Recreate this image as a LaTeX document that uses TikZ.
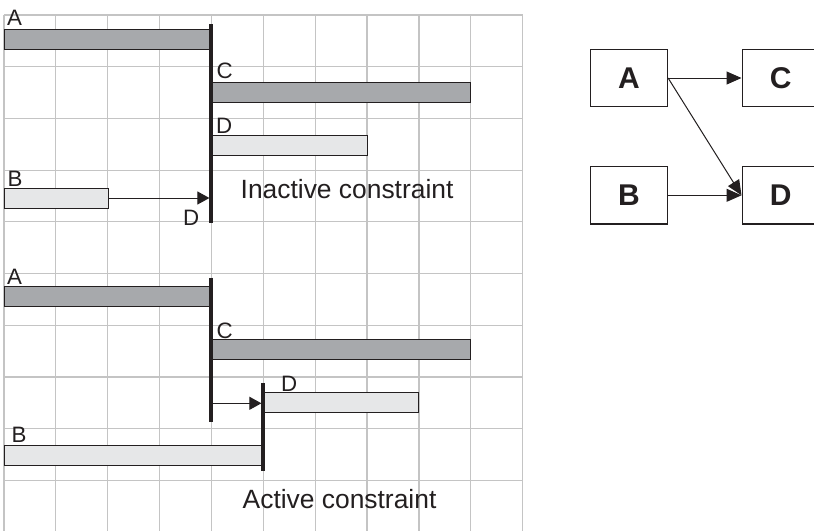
\documentclass[tikz,border=0pt]{standalone}
\usepackage{fontspec}
\setmainfont{Liberation Sans}
\usetikzlibrary{arrows.meta}
\definecolor{gridc}{HTML}{C4C4C4}
\definecolor{darkfill}{HTML}{A7A9AC}
\definecolor{lightfill}{HTML}{E6E7E8}
\definecolor{ink}{HTML}{231F20}
\begin{document}
\begin{tikzpicture}[x=1pt,y=-1pt,
 bar/.style={draw=ink, line width=0.9pt, inner sep=0pt, outer sep=0pt, minimum height=20pt, anchor=north west},
 darkbar/.style={bar, fill=darkfill},
 lightbar/.style={bar, fill=lightfill},
 lbl/.style={font=\fontsize{22.3}{24}\selectfont, text=ink, inner sep=0pt, anchor=base west},
 caption/.style={font=\fontsize{26.4}{28}\selectfont, text=ink, inner sep=0pt, anchor=base west},
 constr/.style={line width=3.3pt, draw=ink},
 arr/.style={draw=ink, line width=1pt, -{Triangle[length=12pt,width=13pt]}},
 netarr/.style={draw=ink, line width=1pt, -{Triangle[length=15pt,width=13pt]}},
 box/.style={draw=ink, line width=1.5pt, minimum width=76.7pt, minimum height=57.3pt, inner sep=0pt, font=\bfseries\fontsize{30}{32}\selectfont, text=ink}]
\fill[white] (0,0) rectangle (814,531);
\useasboundingbox (0,0) rectangle (814,531);
\clip (0,0) rectangle (814,531);
% grid
\foreach \k in {0,...,10} \draw[gridc, line width=1.2pt] ({4+51.87*\k},15) -- ({4+51.87*\k},531);
\foreach \j in {0,...,9} \draw[gridc, line width=1.2pt] (4,{15+51.7*\j}) -- (522.7,{15+51.7*\j});
% top gantt
\node[darkbar, minimum width=207pt] (A1) at (4,29.3) {};
\node[darkbar, minimum width=259.7pt] (C1) at (211,82.7) {};
\node[lightbar, minimum width=156pt] (D1) at (211,135.3) {};
\node[lightbar, minimum width=104pt] (B1) at (4,188) {};
\coordinate (K1top) at (211,24);
\coordinate (K1bot) at (211,223);
\draw[constr] (K1top) -- (K1bot);
\coordinate (K1hit) at (209.4,198);
\draw[arr] (B1.east) -- (K1hit);
\node[lbl] (tA1) at (7,25) {A};
\node[lbl] (tC1) at (216.5,78) {C};
\node[lbl] (tD1) at (216,133) {D};
\node[lbl] (tB1) at (7.5,186) {B};
\node[lbl] (tD1b) at (183,225) {D};
\node[caption] (cap1) at (240.5,198.3) {Inactive constraint};
% bottom gantt
\node[darkbar, minimum width=207pt] (A2) at (4,286) {};
\node[darkbar, minimum width=259.7pt] (C2) at (211,339.3) {};
\node[lightbar, minimum width=155.7pt] (D2) at (263,392.7) {};
\node[lightbar, minimum width=259pt] (B2) at (4,445) {};
\coordinate (K2top) at (211,277.7);
\coordinate (K2bot) at (211,421.7);
\draw[constr] (K2top) -- (K2bot);
\coordinate (K3top) at (263,383.3);
\coordinate (K3bot) at (263,470.7);
\draw[constr] (K3top) -- (K3bot);
\coordinate (K2arr) at (212.6,403.3);
\coordinate (K3hit) at (261.4,403.3);
\draw[arr] (K2arr) -- (K3hit);
\node[lbl] (tA2) at (7,284) {A};
\node[lbl] (tC2) at (216.5,338.5) {C};
\node[lbl] (tD2) at (281,391.5) {D};
\node[lbl] (tB2) at (11.5,442.7) {B};
\node[caption] (cap2) at (242.5,508) {Active constraint};
% network
\node[box] (nA) at (629,78) {A};
\node[box] (nB) at (629,195.3) {B};
\node[box] (nC) at (780.6,78) {C};
\node[box] (nD) at (780.6,195.3) {D};
\draw[netarr] (nA.east) -- (nC.west);
\draw[netarr] (nA.east) -- (nD.west);
\draw[netarr] (nB.east) -- (nD.west);
\end{tikzpicture}
\end{document}
